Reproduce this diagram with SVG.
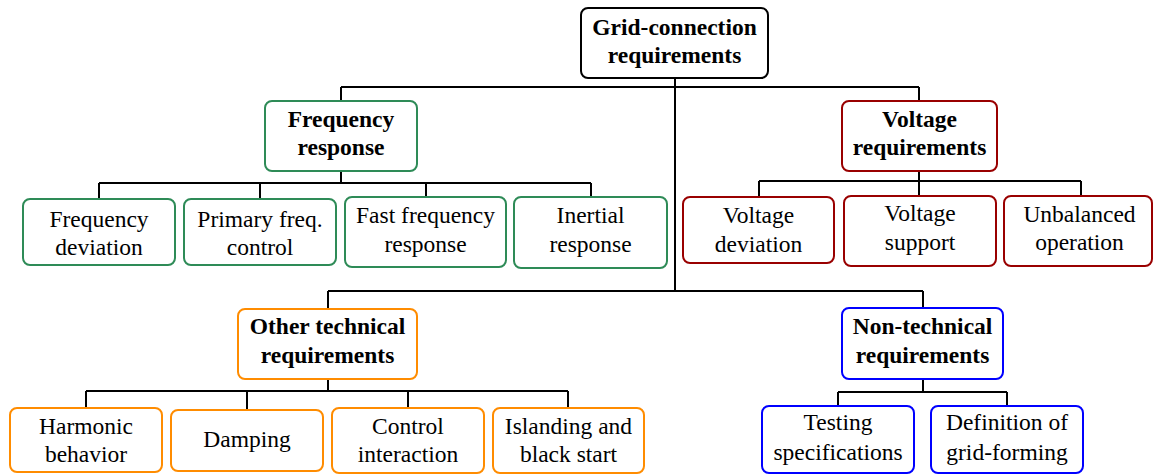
<svg xmlns="http://www.w3.org/2000/svg" width="1154" height="475" viewBox="0 0 1154 475" font-family="'Liberation Serif', 'DejaVu Serif', serif">
<style>
  rect { fill: #ffffff; stroke-width: 2; }
  .root rect { stroke: #000000; }
  .g rect { stroke: #2e8b57; }
  .r rect { stroke: #990000; }
  .o rect { stroke: #ff8c00; }
  .b rect { stroke: #0000ff; }
  text { font-family: 'Liberation Serif', 'DejaVu Serif', serif; font-size: 23.5px; fill: #000; text-anchor: middle; }
  .h text { font-weight: bold; }
  #connectors path { fill: none; stroke: #000; stroke-width: 2; }
</style>
<rect x="0" y="0" width="1154" height="475" style="fill:#fff;stroke:none"/>
<g id="connectors">
  <path d="M675 78 V291"/>
  <path d="M341 87 H919"/>
  <path d="M341 87 V101 M919 87 V101"/>
  <path d="M341 171 V183 M99 183 H591 M99 183 V199 M260 183 V199 M426 183 V197 M591 183 V197"/>
  <path d="M919 171 V181 M759 181 H1081 M759 181 V197 M919 181 V196 M1081 181 V196"/>
  <path d="M328 291 H923 M328 291 V309 M923 291 V308"/>
  <path d="M328 379 V391 M86 391 H568 M86 391 V408 M247 391 V410 M408 391 V408 M568 391 V408"/>
  <path d="M923 379 V392 M838 392 H1007 M838 392 V406 M1007 392 V406"/>
</g>
<g id="root" class="root h">
  <rect x="581" y="8" width="187" height="70" rx="7"/>
  <text x="674.5" y="35">Grid-connection</text>
  <text x="674.5" y="63">requirements</text>
</g>
<g id="freq" class="g h">
  <rect x="265" y="101" width="152" height="70" rx="7"/>
  <text x="341" y="127">Frequency</text>
  <text x="341" y="155">response</text>
</g>
<g id="freq-dev" class="g">
  <rect x="23" y="199" width="152" height="66" rx="7"/>
  <text x="99" y="227">Frequency</text>
  <text x="99" y="255">deviation</text>
</g>
<g id="primary" class="g">
  <rect x="184" y="199" width="152" height="66" rx="7"/>
  <text x="260" y="227">Primary freq.</text>
  <text x="260" y="255">control</text>
</g>
<g id="fast" class="g">
  <rect x="345" y="197" width="161" height="70" rx="7"/>
  <text x="425.5" y="223">Fast frequency</text>
  <text x="425.5" y="252">response</text>
</g>
<g id="inertial" class="g">
  <rect x="514" y="197" width="153" height="71" rx="7"/>
  <text x="590.5" y="223">Inertial</text>
  <text x="590.5" y="252">response</text>
</g>
<g id="voltage" class="r h">
  <rect x="842" y="101" width="155" height="70" rx="7"/>
  <text x="919.5" y="127">Voltage</text>
  <text x="919.5" y="155">requirements</text>
</g>
<g id="volt-dev" class="r">
  <rect x="683" y="197" width="151" height="66" rx="7"/>
  <text x="758.5" y="223">Voltage</text>
  <text x="758.5" y="252">deviation</text>
</g>
<g id="volt-sup" class="r">
  <rect x="844" y="196" width="152" height="70" rx="7"/>
  <text x="920" y="221">Voltage</text>
  <text x="920" y="250">support</text>
</g>
<g id="unbal" class="r">
  <rect x="1004" y="196" width="148" height="70" rx="7"/>
  <text x="1079.5" y="222">Unbalanced</text>
  <text x="1079.5" y="250">operation</text>
</g>
<g id="other" class="o h">
  <rect x="238" y="309" width="179" height="70" rx="7"/>
  <text x="327.5" y="334">Other technical</text>
  <text x="327.5" y="363">requirements</text>
</g>
<g id="harmonic" class="o">
  <rect x="10" y="408" width="152" height="64" rx="7"/>
  <text x="86" y="434">Harmonic</text>
  <text x="86" y="462">behavior</text>
</g>
<g id="damping" class="o">
  <rect x="171" y="410" width="152" height="61" rx="7"/>
  <text x="247" y="447">Damping</text>
</g>
<g id="control" class="o">
  <rect x="332" y="408" width="152" height="65" rx="7"/>
  <text x="408" y="434">Control</text>
  <text x="408" y="462">interaction</text>
</g>
<g id="islanding" class="o">
  <rect x="493" y="408" width="151" height="65" rx="7"/>
  <text x="568.5" y="434">Islanding and</text>
  <text x="568.5" y="462">black start</text>
</g>
<g id="nontech" class="b h">
  <rect x="842" y="308" width="161" height="71" rx="7"/>
  <text x="922.5" y="334">Non-technical</text>
  <text x="922.5" y="363">requirements</text>
</g>
<g id="testing" class="b">
  <rect x="762" y="406" width="152" height="67" rx="7"/>
  <text x="838" y="430">Testing</text>
  <text x="838" y="460">specifications</text>
</g>
<g id="definition" class="b">
  <rect x="931" y="406" width="152" height="67" rx="7"/>
  <text x="1007" y="430">Definition of</text>
  <text x="1007" y="460">grid-forming</text>
</g>
</svg>
